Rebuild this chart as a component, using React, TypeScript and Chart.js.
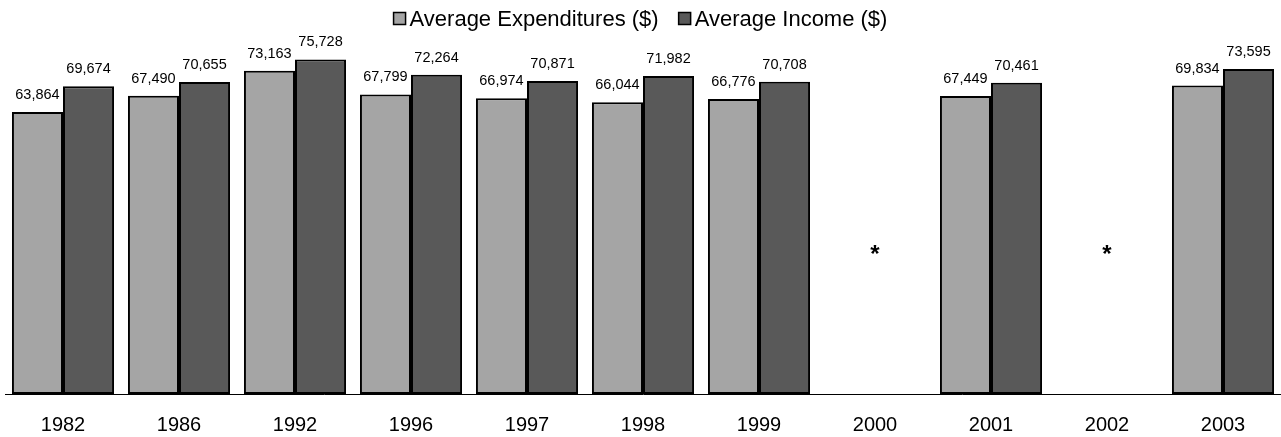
import React, { useEffect, useRef } from "react";
import { Chart, registerables } from "chart.js";

Chart.register(...registerables);

const years = ["1982", "1986", "1992", "1996", "1997", "1998", "1999", "2000", "2001", "2002", "2003"];
const expenditures = [63864, 67490, 73163, 67799, 66974, 66044, 66776, null, 67449, null, 69834];
const income = [69674, 70655, 75728, 72264, 70871, 71982, 70708, null, 70461, null, 73595];
const notes = [null, null, null, null, null, null, null, "*", null, "*", null];
const noteValue = 32500;
const seriesNames = ["Average Expenditures ($)", "Average Income ($)"];
const seriesColors = ["#A5A5A5", "#595959"];
const yMax = 80000;

const FONT = '"Liberation Sans", Arial, sans-serif';

const overlayPlugin = {
  id: "overlay",
  afterDatasetsDraw(chart: any) {
    const ctx = chart.ctx;
    ctx.save();
    ctx.fillStyle = "#000";
    ctx.textAlign = "center";
    ctx.textBaseline = "middle";
    ctx.font = `14.5px ${FONT}`;
    chart.data.datasets.forEach((ds: any, i: number) => {
      const meta = chart.getDatasetMeta(i);
      meta.data.forEach((bar: any, j: number) => {
        const v = ds.data[j];
        if (v == null) return;
        ctx.fillText(Number(v).toLocaleString("en-US"), bar.x, bar.y - 17);
      });
    });
    const xs = chart.scales.x;
    const ys = chart.scales.y;
    ctx.font = `bold 24px ${FONT}`;
    notes.forEach((n, j) => {
      if (!n) return;
      ctx.fillText(n, xs.getPixelForValue(j), ys.getPixelForValue(noteValue) + 5);
    });

    // legend
    ctx.font = `22px ${FONT}`;
    const box = 12;
    const gapBox = 4;
    const gapItems = 20;
    const widths = seriesNames.map((s) => ctx.measureText(s).width);
    const total = widths.reduce((a, w) => a + box + gapBox + w, 0) + gapItems * (seriesNames.length - 1);
    let x = (chart.width - total) / 2;
    const cy = 18.5;
    ctx.textAlign = "left";
    seriesNames.forEach((s, i) => {
      ctx.fillStyle = seriesColors[i];
      ctx.fillRect(x, cy - box / 2, box, box);
      ctx.lineWidth = 1.5;
      ctx.strokeStyle = "#000";
      ctx.strokeRect(x, cy - box / 2, box, box);
      ctx.fillStyle = "#000";
      ctx.fillText(s, x + box + gapBox, cy + 1);
      x += box + gapBox + widths[i] + gapItems;
    });
    ctx.restore();
  },
};

export default function App() {
  const ref = useRef<HTMLCanvasElement | null>(null);
  useEffect(() => {
    document.body.style.margin = "0";
    const canvas = ref.current;
    if (!canvas) return;
    const chart = new Chart(canvas, {
      type: "bar",
      data: {
        labels: years,
        datasets: [
          {
            label: seriesNames[0],
            data: expenditures,
            backgroundColor: seriesColors[0],
            borderColor: "#000",
            borderWidth: 2,
            borderSkipped: false,
            categoryPercentage: 0.88,
            barPercentage: 1.0,
          },
          {
            label: seriesNames[1],
            data: income,
            backgroundColor: seriesColors[1],
            borderColor: "#000",
            borderWidth: 2,
            borderSkipped: false,
            categoryPercentage: 0.88,
            barPercentage: 1.0,
          },
        ],
      },
      options: {
        responsive: false,
        animation: false,
        devicePixelRatio: 1,
        layout: { padding: { top: 40.6, left: 5, right: 0, bottom: -19 } },
        plugins: {
          legend: { display: false },
          tooltip: { enabled: false },
        },
        scales: {
          x: {
            grid: { display: false, drawTicks: false },
            border: { display: true, color: "#000", width: 1 },
            ticks: { color: "#000", font: { family: FONT, size: 20 }, padding: 19, maxRotation: 0 },
          },
          y: {
            display: false,
            min: 0,
            max: yMax,
          },
        },
      },
      plugins: [overlayPlugin],
    });
    return () => chart.destroy();
  }, []);
  return (
    <div style={{ width: 1281, height: 437, background: "#fff" }}>
      <canvas ref={ref} width={1281} height={437} style={{ display: "block" }} />
    </div>
  );
}
